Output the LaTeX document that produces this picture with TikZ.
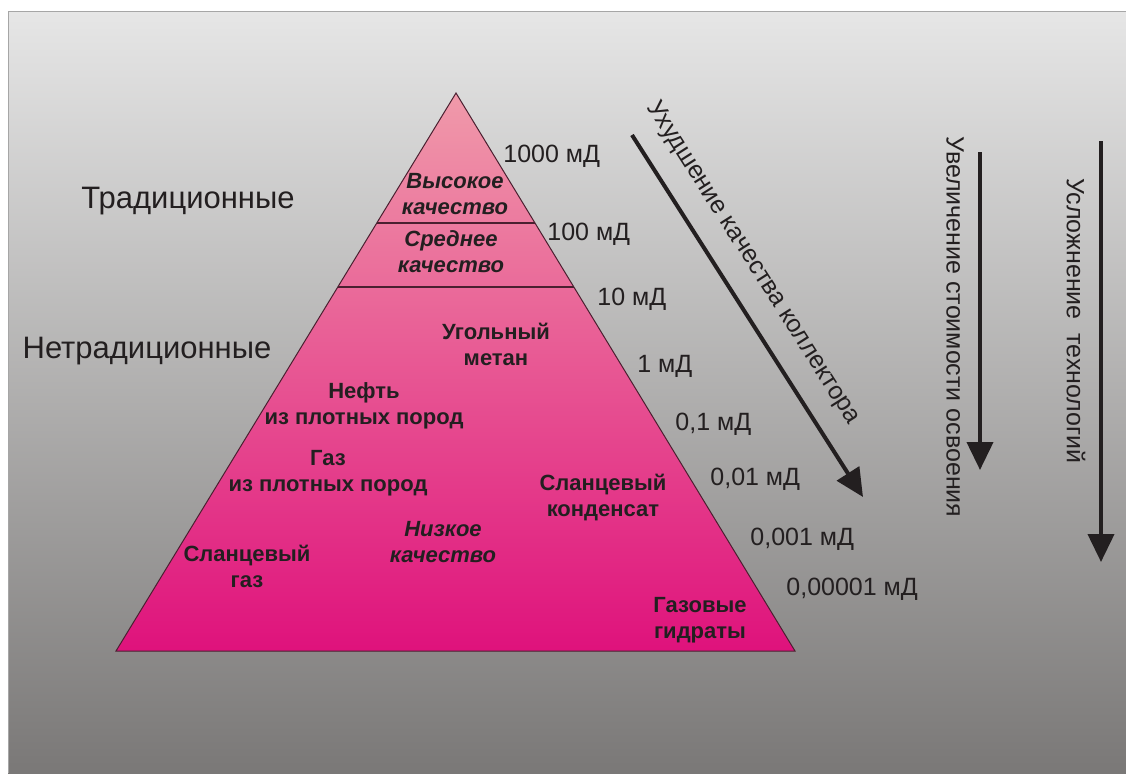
\documentclass[tikz,border=0pt]{standalone}
\usepackage{fontspec}
\setmainfont{Liberation Sans}
\usepackage{xcolor}
\usetikzlibrary{calc,arrows.meta}
\definecolor{bgtop}{HTML}{E6E6E6}
\definecolor{bgmid}{HTML}{C2C2C2}
\definecolor{bgbot}{HTML}{7A7877}
\definecolor{pktop}{HTML}{F09AAA}
\definecolor{pkbot}{HTML}{DF127C}
\definecolor{txt}{HTML}{231F20}
\definecolor{edge}{HTML}{4A2030}

\begin{document}
\begin{tikzpicture}[x = 0.5pt, y = -0.5pt,
	lbl/.style = {align=center, text=txt, font=\fontsize{11}{13}\selectfont\bfseries},
	qual/.style = {lbl, font=\fontsize{11}{13}\selectfont\bfseries\itshape},
	perm/.style = {anchor=base west, inner sep=0pt, text=txt, font=\fontsize{12.5}{15}\selectfont},
	side/.style = {text=txt, font=\fontsize{12.5}{15}\selectfont},
	group/.style = {anchor=base, text=txt, font=\fontsize{15.5}{18}\selectfont},
	big/.style = {line width=2pt, draw=txt, -{Triangle[length=14pt,width=13pt]}}]
	\useasboundingbox (0,0) rectangle (1126,773);
	\fill[white] (0,0) rectangle (1126,773);
	\shade[top color=bgtop, middle color=bgmid, bottom color=bgbot] (8,11) rectangle (1126,773);
	\draw[gray!70] (8,773) -- (8,11) -- (1126,11);

	% pyramid
	\coordinate (apex) at (456,93);
	\coordinate (bl) at (116,651);
	\coordinate (br) at (795,651);
	\shade[top color=pktop, bottom color=pkbot] (apex) -- (br) -- (bl) -- cycle;
	\draw[edge, line width=0.5pt] (apex) -- (br) -- (bl) -- cycle;
	\foreach \t in {0.233,0.348}{
		\draw[edge, line width=0.8pt] ($(apex)!\t!(bl)$) -- ($(apex)!\t!(br)$);}

	\node[group] (trad) at (188,208) {Традиционные};
	\node[group] (netrad) at (147,358) {Нетрадиционные};

	\node[qual] (high) at (455,194) {Высокое\\качество};
	\node[qual] (medium) at (451,252) {Среднее\\качество};
	\node[qual] (low) at (443,542) {Низкое\\качество};
	\node[lbl] (coal) at (496,344) {Угольный\\метан};
	\node[lbl] (oil) at (364,406) {Нефть\\из плотных пород};
	\node[lbl] (gas) at (328,473) {Газ\\из плотных пород};
	\node[lbl] (cond) at (603,497) {Сланцевый\\конденсат};
	\node[lbl] (shale) at (247,566) {Сланцевый\\газ};
	\node[lbl] (hydr) at (700,620) {Газовые\\гидраты};

	% permeability
	\foreach \x/\y/\v [count=\i] in {503/162/1000, 547/240/100, 597/305/10, 637/372/1,
		675/430/{0,1}, 710/485/{0,01}, 750/545/{0,001}, 786/595/{0,00001}}{
		\node[perm] (k\i) at (\x,\y) {\v{} мД};}

	% arrows
	\coordinate (q0) at (632,135);
	\coordinate (q1) at (863,497);
	\draw[big] (q0) -- (q1);
	\node[side, rotate=-57.5] (quality) at (753,263) {Ухудшение качества коллектора};

	\coordinate (c0) at (980,152);
	\coordinate (c1) at (980,470);
	\draw[big] (c0) -- (c1);
	\node[side, rotate=-90] (cost) at (955,327) {Увеличение стоимости освоения};

	\coordinate (t0) at (1101,141);
	\coordinate (t1) at (1101,562);
	\draw[big] (t0) -- (t1);
	\node[side, rotate=-90] (tech) at (1076,321) {Усложнение\ \ технологий};
\end{tikzpicture}
\end{document}
